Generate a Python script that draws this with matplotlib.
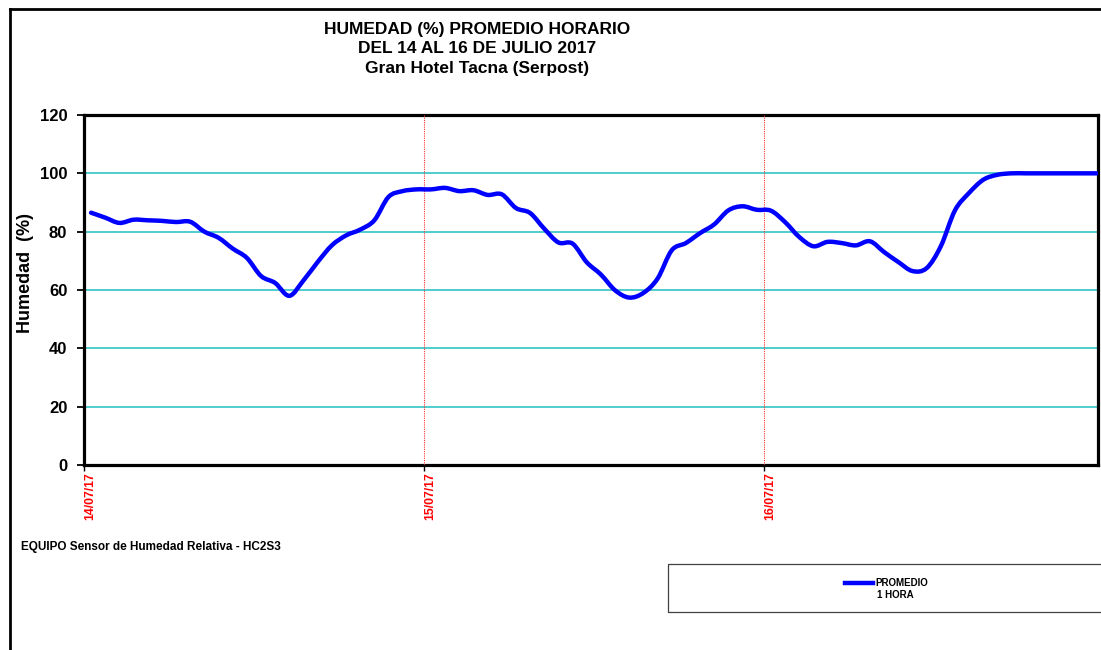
import numpy as np
import matplotlib.pyplot as plt
from matplotlib.lines import Line2D
from matplotlib.patches import Rectangle, PathPatch
from matplotlib.path import Path

plt.rcParams['font.family'] = ['Liberation Sans', 'DejaVu Sans']
plt.rcParams['font.weight'] = 'bold'

# promedio horario de humedad, 14/07 00h ... 16/07 23h
horas = np.arange(72) + 0.5
humedad = [86.5, 84.8, 83.0, 84.1, 83.9, 83.7, 83.3, 83.4, 80.0, 77.9, 74.2, 71.0,
           64.8, 62.4, 58.0, 63.3, 69.6, 75.3, 78.7, 80.7, 83.9, 91.9, 93.9, 94.5,
           94.5, 95.0, 93.9, 94.2, 92.6, 92.8, 88.1, 86.4, 81.0, 76.3, 75.9, 69.5,
           65.3, 59.9, 57.4, 59.0, 63.9, 73.6, 76.1, 79.5, 82.5, 87.3, 88.7, 87.5,
           87.2, 83.3, 78.2, 75.0, 76.5, 76.1, 75.3, 76.7, 73.0, 69.6, 66.5, 67.5,
           75.0, 87.3, 93.3, 97.8, 99.5, 100, 100, 100, 100, 100, 100, 100]
dias = [0, 24, 48]
fechas = ['14/07/17', '15/07/17', '16/07/17']

W, H = 1101, 650
AZUL = '#0000FF'


def fx(px):
    return px / W


def fy(py):
    return 1 - py / H


def curva_suave(x, y):
    # linea suavizada tipo Excel: bezier cubica por cada tramo (Catmull-Rom)
    p = np.column_stack([x, y])
    ext = np.vstack([p[0], p, p[-1]])
    verts = [p[0]]
    codes = [Path.MOVETO]
    for i in range(len(p) - 1):
        p0, p1, p2, p3 = ext[i], ext[i + 1], ext[i + 2], ext[i + 3]
        verts += [p1 + (p2 - p0) / 6, p2 - (p3 - p1) / 6, p2]
        codes += [Path.CURVE4] * 3
    return Path(verts, codes)


fig = plt.figure(figsize=(W / 100, H / 100), dpi=100)
ax = fig.add_axes([fx(84), fy(465), (1098 - 84) / W, 350 / H])

ax.add_patch(PathPatch(curva_suave(horas, humedad), fill=False, edgecolor=AZUL, lw=3.2,
                       capstyle='round', joinstyle='round', zorder=5))

# separacion de dias
for d in dias[1:]:
    ax.axvline(d, color='#FF3030', lw=0.8, ls=(0, (1, 1)), zorder=3)

ax.set_xlim(0, 71.6)
ax.set_ylim(0, 120)
ax.set_yticks(range(0, 121, 20))
ax.set_xticks(dias)
ax.set_xticklabels(fechas, rotation=90, va='top', ha='left')

ax.yaxis.grid(True, color='#4FCDCD', lw=1.4)
ax.set_axisbelow(True)
for s in ax.spines.values():
    s.set_linewidth(2.3)
    s.set_color('black')

ax.tick_params(axis='y', direction='out', length=5, width=1.3, pad=7, labelsize=12)
ax.tick_params(axis='x', direction='out', length=4, width=1.0, pad=1, labelsize=8.8,
               labelcolor='red')

fig.text(fx(477), fy(22), 'HUMEDAD (%) PROMEDIO HORARIO\nDEL 14 AL 16 DE JULIO 2017\n'
         'Gran Hotel Tacna (Serpost)', ha='center', va='top', fontsize=12.5, linespacing=1.36)
fig.text(fx(26), fy(273), 'Humedad  (%)', rotation=90, ha='center', va='center', fontsize=13)
fig.text(fx(21), fy(547), 'EQUIPO Sensor de Humedad Relativa - HC2S3', va='center',
         fontsize=8.5)

# marco exterior (solo lados visibles)
fig.add_artist(Line2D([fx(10), fx(10)], [0, fy(9)], transform=fig.transFigure,
                      color='black', lw=2))
fig.add_artist(Line2D([fx(10), 1], [fy(9), fy(9)], transform=fig.transFigure,
                      color='black', lw=2))

# leyenda
fig.add_artist(Rectangle((fx(668), fy(612)), 1, (612 - 564) / H, transform=fig.transFigure,
                         fill=False, lw=0.9, edgecolor='#404040'))
muestra = Line2D([], [], color=AZUL, lw=3.2)
ax.legend([muestra], ['PROMEDIO'], loc='center left', bbox_to_anchor=(fx(845), fy(583)),
          bbox_transform=fig.transFigure, frameon=False, borderpad=0, borderaxespad=0,
          handlelength=2.9, handletextpad=0.2, prop={'size': 7, 'weight': 'bold'})
fig.text(fx(877), fy(595), '1 HORA', fontsize=7, va='center')

fig.savefig('out.png', dpi=100)
